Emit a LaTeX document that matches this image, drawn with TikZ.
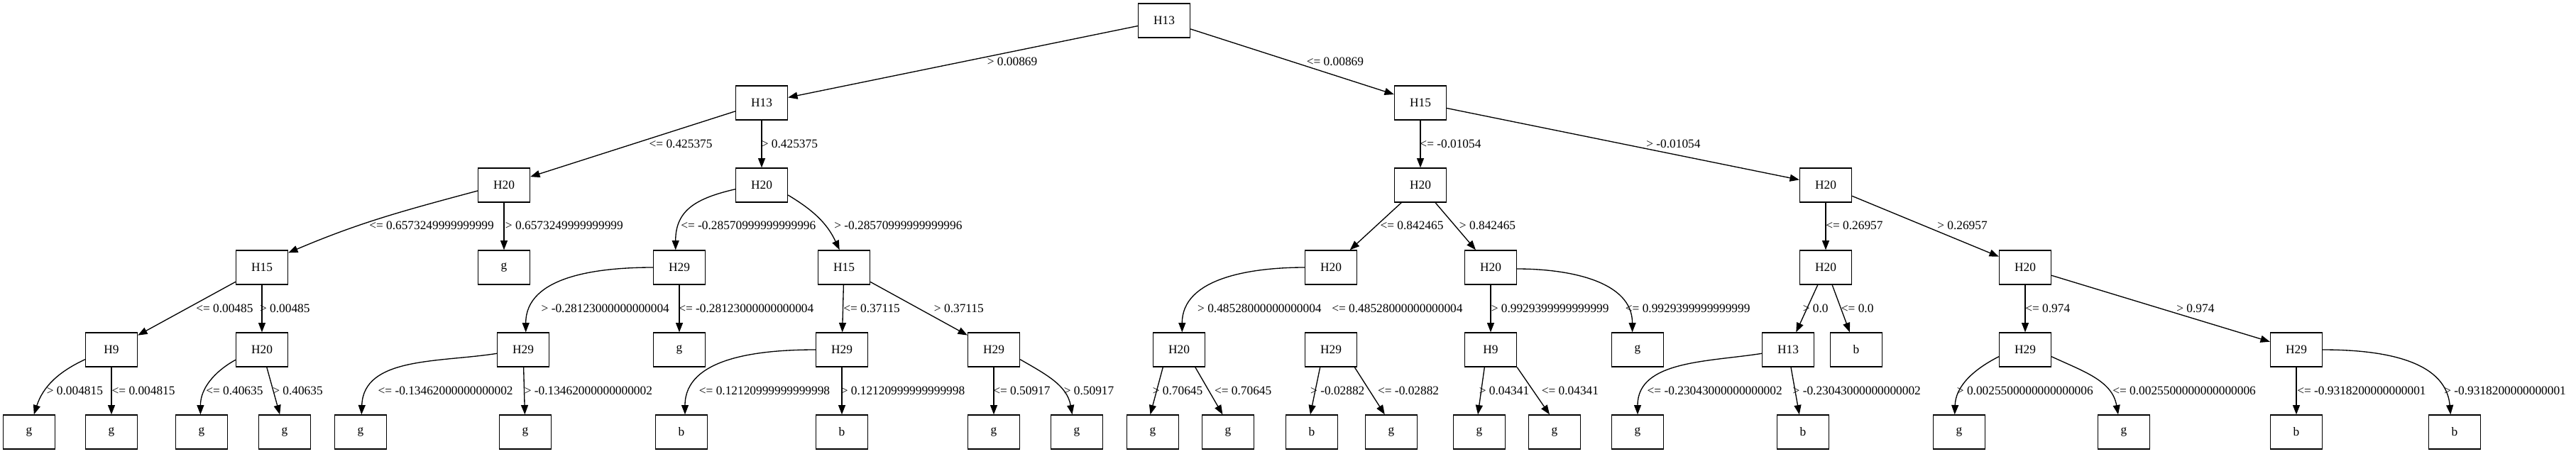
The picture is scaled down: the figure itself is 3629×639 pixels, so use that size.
\documentclass[tikz,border=0pt]{standalone}
\usepackage{fontspec}
\setmainfont{Liberation Serif}
\usetikzlibrary{arrows.meta,calc}
\begin{document}
\begin{tikzpicture}[x=0.75pt,y=0.75pt,
  box/.style={draw,rectangle,minimum width=54.75pt,minimum height=36pt,inner sep=0pt,line width=1pt,font=\fontsize{13}{15}\selectfont},
  edge/.style={line width=1pt,-{Triangle[length=10pt,width=7.5pt]}},
  lbl/.style={anchor=base west,inner sep=0pt,font=\fontsize{13}{15}\selectfont}]
\useasboundingbox[fill=white] (0,0) rectangle (3629,-639);
% level 0
\node[box] (n0) at (1640,-29) {H13};
% level 1
\node[box] (n1) at (1073,-145) {H13};
\node[box] (n2) at (2001,-145) {H15};
% level 2
\node[box] (n3) at (710,-261) {H20};
\node[box] (n4) at (1073,-261) {H20};
\node[box] (n5) at (2001,-261) {H20};
\node[box] (n6) at (2572,-261) {H20};
% level 3
\node[box] (n7) at (369,-377) {H15};
\node[box] (n8) at (710,-377) {g};
\node[box] (n9) at (957,-377) {H29};
\node[box] (n10) at (1189,-377) {H15};
\node[box] (n11) at (1875,-377) {H20};
\node[box] (n12) at (2100,-377) {H20};
\node[box] (n13) at (2572,-377) {H20};
\node[box] (n14) at (2853,-377) {H20};
% level 4
\node[box] (n15) at (157,-493) {H9};
\node[box] (n16) at (369,-493) {H20};
\node[box] (n17) at (737,-493) {H29};
\node[box] (n18) at (957,-493) {g};
\node[box] (n19) at (1186,-493) {H29};
\node[box] (n20) at (1400,-493) {H29};
\node[box] (n21) at (1661,-493) {H20};
\node[box] (n22) at (1875,-493) {H29};
\node[box] (n23) at (2100,-493) {H9};
\node[box] (n24) at (2307,-493) {g};
\node[box] (n25) at (2519,-493) {H13};
\node[box] (n26) at (2615,-493) {b};
\node[box] (n27) at (2853,-493) {H29};
\node[box] (n28) at (3235,-493) {H29};
% level 5
\node[box] (n29) at (41,-609) {g};
\node[box] (n30) at (157,-609) {g};
\node[box] (n31) at (284,-609) {g};
\node[box] (n32) at (401,-609) {g};
\node[box] (n33) at (508,-609) {g};
\node[box] (n34) at (740,-609) {g};
\node[box] (n35) at (960,-609) {b};
\node[box] (n36) at (1186,-609) {b};
\node[box] (n37) at (1400,-609) {g};
\node[box] (n38) at (1517,-609) {g};
\node[box] (n39) at (1624,-609) {g};
\node[box] (n40) at (1730,-609) {g};
\node[box] (n41) at (1848,-609) {b};
\node[box] (n42) at (1960,-609) {g};
\node[box] (n43) at (2084,-609) {g};
\node[box] (n44) at (2190,-609) {g};
\node[box] (n45) at (2307,-609) {g};
\node[box] (n46) at (2540,-609) {b};
\node[box] (n47) at (2760,-609) {g};
\node[box] (n48) at (2992,-609) {g};
\node[box] (n49) at (3235,-609) {b};
\node[box] (n50) at (3458,-609) {b};
% straight edges
\draw[edge] (n0) -- (n1);
\draw[edge] (n0) -- (n2);
\draw[edge] (n1) -- (n3);
\draw[edge] (n1) -- (n4);
\draw[edge] (n2) -- (n5);
\draw[edge] (n2) -- (n6);
\draw[edge] (n3) -- (n8);
\draw[edge] (n5) -- (n11);
\draw[edge] (n5) -- (n12);
\draw[edge] (n6) -- (n13);
\draw[edge] (n6) -- (n14);
\draw[edge] (n7) -- (n15);
\draw[edge] (n7) -- (n16);
\draw[edge] (n9) -- (n18);
\draw[edge] (n10) -- (n19);
\draw[edge] (n10) -- (n20);
\draw[edge] (n12) -- (n23);
\draw[edge] (n13) -- (n25);
\draw[edge] (n13) -- (n26);
\draw[edge] (n14) -- (n27);
\draw[edge] (n14) -- (n28);
\draw[edge] (n15) -- (n30);
\draw[edge] (n16) -- (n32);
\draw[edge] (n17) -- (n34);
\draw[edge] (n19) -- (n36);
\draw[edge] (n20) -- (n37);
\draw[edge] (n28) -- (n49);
\draw[edge] ($(n21.south)+(-22.7,0)$) -- ($(n39.north)+(-3.5,0)$);
\draw[edge] ($(n21.south)+(22.8,0)$) -- ($(n40.north)+(-7.6,0)$);
\draw[edge] ($(n22.south)+(-15.3,0)$) -- ($(n41.north)+(-2.1,0)$);
\draw[edge] ($(n22.south)+(33.3,0)$) -- ($(n42.north)+(-9.2,0)$);
\draw[edge] ($(n23.south)+(-8.7,0)$) -- ($(n43.north)+(-2,0)$);
\draw[edge] (n23.south east) -- ($(n44.north)+(-7,0)$);
\draw[edge] ($(n25.south)+(4,0)$) -- ($(n46.north)+(-5.2,0)$);
% curved edges
\draw[edge] ($(n3.west)+(0,-8)$) to[out=195,in=23] ($(n7.north east)+(0,-4)$);
\draw[edge] ($(n4.west)+(0,-5.7)$) to[out=193,in=90,looseness=1.2] ($(n9.north)+(-5.3,0)$);
\draw[edge] ($(n4.east)+(0,-14)$) to[out=-31,in=115] ($(n10.north)+(-6.3,0)$);
\draw[edge] (n9.west) to[out=180,in=90] ($(n17.north)+(3.7,0)$);
\draw[edge] (n11.west) to[out=180,in=90] ($(n21.north)+(4.3,0)$);
\draw[edge] ($(n12.east)+(0,-2)$) to[out=0,in=90] ($(n24.north)+(-7.4,0)$);
\draw[edge] ($(n15.west)+(0,-13.7)$) to[out=205,in=72] ($(n29.north)+(6.8,0)$);
\draw[edge] ($(n16.west)+(0,-14.3)$) to[out=209,in=90] ($(n31.north)+(-1.6,0)$);
\draw[edge] ($(n17.west)+(0,-5.3)$) to[out=189,in=88] ($(n33.north)+(1.3,0)$);
\draw[edge] (n19.west) to[out=180,in=90] ($(n35.north)+(5,0)$);
\draw[edge] ($(n20.east)+(0,-13.7)$) to[out=-30,in=100] ($(n38.north)+(-6.5,0)$);
\draw[edge] ($(n25.west)+(0,-5.3)$) to[out=189,in=90] (n45.north);
\draw[edge] ($(n27.west)+(0,-9.7)$) to[out=207,in=88] ($(n47.north)+(-6.3,0)$);
\draw[edge] ($(n27.east)+(0,-9.7)$) to[out=-25,in=100] ($(n48.north)+(-8,0)$);
\draw[edge] (n28.east) to[out=0,in=95] ($(n50.north)+(-5.7,0)$);
% labels row 1
\node[lbl] (l1) at (1390.6,-92.5) {> 0.00869};
\node[lbl] (l2) at (1840.5,-92.5) {<= 0.00869};
% row 2
\node[lbl] (l3) at (914.4,-208) {<= 0.425375};
\node[lbl] (l4) at (1072.6,-208) {> 0.425375};
\node[lbl] (l5) at (2000.2,-208) {<= -0.01054};
\node[lbl] (l6) at (2319,-208) {> -0.01054};
% row 3
\node[lbl] (l7) at (520,-323.5) {<= 0.6573249999999999};
\node[lbl] (l8) at (711.7,-323.5) {> 0.6573249999999999};
\node[lbl] (l9) at (959,-323.5) {<= -0.28570999999999996};
\node[lbl] (l10) at (1175,-323.5) {> -0.28570999999999996};
\node[lbl] (l11) at (1944.3,-323.5) {<= 0.842465};
\node[lbl] (l12) at (2055.7,-323.5) {> 0.842465};
\node[lbl] (l13) at (2572,-323.5) {<= 0.26957};
\node[lbl] (l14) at (2729,-323.5) {> 0.26957};
% row 4
\node[lbl] (l15) at (276,-440) {<= 0.00485};
\node[lbl] (l16) at (365.8,-440) {> 0.00485};
\node[lbl] (l17) at (762.4,-440) {> -0.28123000000000004};
\node[lbl] (l18) at (956,-440) {<= -0.28123000000000004};
\node[lbl] (l19) at (1188,-440) {<= 0.37115};
\node[lbl] (l20) at (1315.7,-440) {> 0.37115};
\node[lbl] (l21) at (1686.9,-440) {> 0.48528000000000004};
\node[lbl] (l22) at (1876,-440) {<= 0.48528000000000004};
\node[lbl] (l23) at (2100.5,-440) {> 0.9929399999999999};
\node[lbl] (l24) at (2289.6,-440) {<= 0.9929399999999999};
\node[lbl] (l25) at (2539.5,-440) {> 0.0};
\node[lbl] (l26) at (2593.6,-440) {<= 0.0};
\node[lbl] (l27) at (2853,-440) {<= 0.974};
\node[lbl] (l28) at (3066,-440) {> 0.974};
% row 5
\node[lbl] (l29) at (65.6,-556) {> 0.004815};
\node[lbl] (l30) at (157.4,-556) {<= 0.004815};
\node[lbl] (l31) at (290,-556) {<= 0.40635};
\node[lbl] (l32) at (384,-556) {> 0.40635};
\node[lbl] (l33) at (532.4,-556) {<= -0.13462000000000002};
\node[lbl] (l34) at (738.5,-556) {> -0.13462000000000002};
\node[lbl] (l35) at (984.6,-556) {<= 0.12120999999999998};
\node[lbl] (l36) at (1184.5,-556) {> 0.12120999999999998};
\node[lbl] (l37) at (1399,-556) {<= 0.50917};
\node[lbl] (l38) at (1498.6,-556) {> 0.50917};
\node[lbl] (l39) at (1623.6,-556) {> 0.70645};
\node[lbl] (l40) at (1710.8,-556) {<= 0.70645};
\node[lbl] (l41) at (1845.9,-556) {> -0.02882};
\node[lbl] (l42) at (1940.8,-556) {<= -0.02882};
\node[lbl] (l43) at (2083.5,-556) {> 0.04341};
\node[lbl] (l44) at (2171.5,-556) {<= 0.04341};
\node[lbl] (l45) at (2320.4,-556) {<= -0.23043000000000002};
\node[lbl] (l46) at (2525.4,-556) {> -0.23043000000000002};
\node[lbl] (l47) at (2756.6,-556) {> 0.0025500000000000006};
\node[lbl] (l48) at (2976,-556) {<= 0.0025500000000000006};
\node[lbl] (l49) at (3236,-556) {<= -0.9318200000000001};
\node[lbl] (l50) at (3443,-556) {> -0.9318200000000001};
\end{tikzpicture}
\end{document}
